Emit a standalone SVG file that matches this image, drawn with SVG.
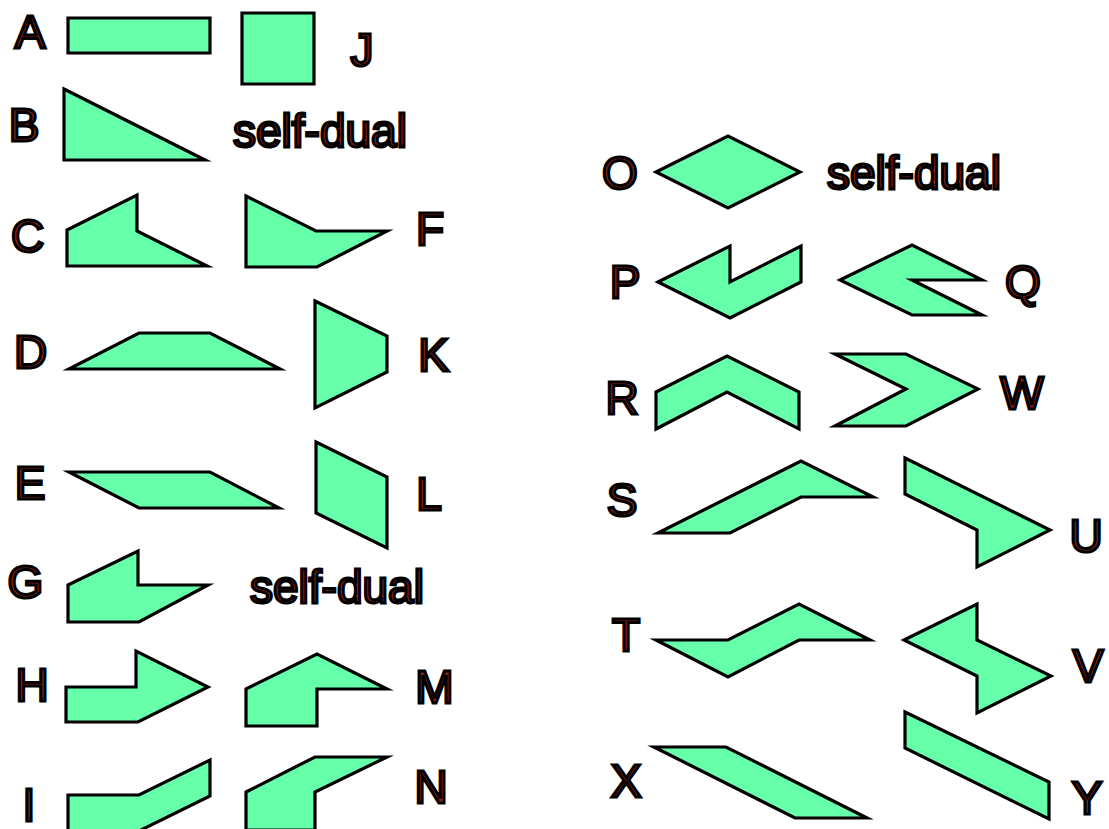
<svg xmlns="http://www.w3.org/2000/svg" width="1109" height="829" viewBox="0 0 1109 829">
<style>
.s{fill:#66ffaa;stroke:#000;stroke-width:3.2;stroke-linejoin:miter;stroke-miterlimit:10}
.t{font-family:"Liberation Sans",Arial,sans-serif;font-size:46px;fill:#9a2020;stroke:#000;stroke-width:3;text-anchor:middle}
.d{text-anchor:start}
</style>
<rect width="1109" height="829" fill="#fff"/>
<g id="A"><polygon class="s" points="68,18 210,18 210,53 68,53"/><text class="t" x="30" y="48">A</text></g>
<g id="J"><polygon class="s" points="242,13 314,13 314,84 242,84"/><text class="t" x="362" y="66">J</text></g>
<g id="B"><polygon class="s" points="64,89 205,160 64,160"/><text class="t" x="24" y="141">B</text><text class="t d" x="233" y="147">self-dual</text></g>
<g id="C"><polygon class="s" points="67,230 137,195 137,231 207,266 67,266"/><text class="t" x="27.5" y="252">C</text></g>
<g id="F"><polygon class="s" points="246,196 316,231 387,231 317,267 246,267"/><text class="t" x="430" y="245">F</text></g>
<g id="D"><polygon class="s" points="69,369 139,333 210,333 280,369"/><text class="t" x="30.5" y="368">D</text></g>
<g id="K"><polygon class="s" points="315,301 387,336 387,372 315,408"/><text class="t" x="433.5" y="371">K</text></g>
<g id="E"><polygon class="s" points="69,472 210,472 279,508 139,508"/><text class="t" x="30" y="499">E</text></g>
<g id="L"><polygon class="s" points="316,442 387,477 387,548 316,513"/><text class="t" x="429" y="510">L</text></g>
<g id="G"><polygon class="s" points="68,585 138,551 138,585 208,585 139,622 68,622"/><text class="t" x="25.5" y="598">G</text><text class="t d" x="250" y="603">self-dual</text></g>
<g id="H"><polygon class="s" points="66,687 136,687 136,651 208,687 138,722 66,722"/><text class="t" x="32" y="701">H</text></g>
<g id="M"><polygon class="s" points="246,689 317,654 387,689 317,689 317,726 246,726"/><text class="t" x="434.5" y="703">M</text></g>
<g id="I"><polygon class="s" points="68,795 139,795 210,760 210,796 139,831 68,831"/><text class="t" x="29" y="821">I</text></g>
<g id="N"><polygon class="s" points="246,792 315,757 387,757 315,792 315,830 246,830"/><text class="t" x="431" y="803">N</text></g>
<g id="O"><polygon class="s" points="656,172 728,136 800,172 728,208"/><text class="t" x="620" y="189">O</text><text class="t d" x="827" y="189">self-dual</text></g>
<g id="P"><polygon class="s" points="658,282 730,246 730,282 801,246 801,282 730,318"/><text class="t" x="625" y="298">P</text></g>
<g id="Q"><polygon class="s" points="840,280 912,245 982,280 912,280 982,315 912,315"/><text class="t" x="1023" y="298">Q</text></g>
<g id="R"><polygon class="s" points="656,392 727,356 799,392 799,429 727,392 656,429"/><text class="t" x="622" y="414">R</text></g>
<g id="W"><polygon class="s" points="835,354 906,354 978,389 906,426 835,426 906,389"/><text class="t" x="1022" y="409">W</text></g>
<g id="S"><polygon class="s" points="658,533 801,461 873,497 801,497 730,533"/><text class="t" x="622" y="516">S</text></g>
<g id="U"><polygon class="s" points="905,458 1050,530 977,567 977,530 905,494"/><text class="t" x="1086" y="552">U</text></g>
<g id="T"><polygon class="s" points="656,640 728,640 799,604 870,640 799,640 728,677"/><text class="t" x="626" y="651">T</text></g>
<g id="V"><polygon class="s" points="904,640 977,604 977,640 1051,676 977,713 977,676"/><text class="t" x="1088" y="682">V</text></g>
<g id="X"><polygon class="s" points="654,747 726,747 867,818 795,818"/><text class="t" x="626" y="797">X</text></g>
<g id="Y"><polygon class="s" points="905,712 1049,782 1049,819 905,748"/><text class="t" x="1087" y="814">Y</text></g>
</svg>
